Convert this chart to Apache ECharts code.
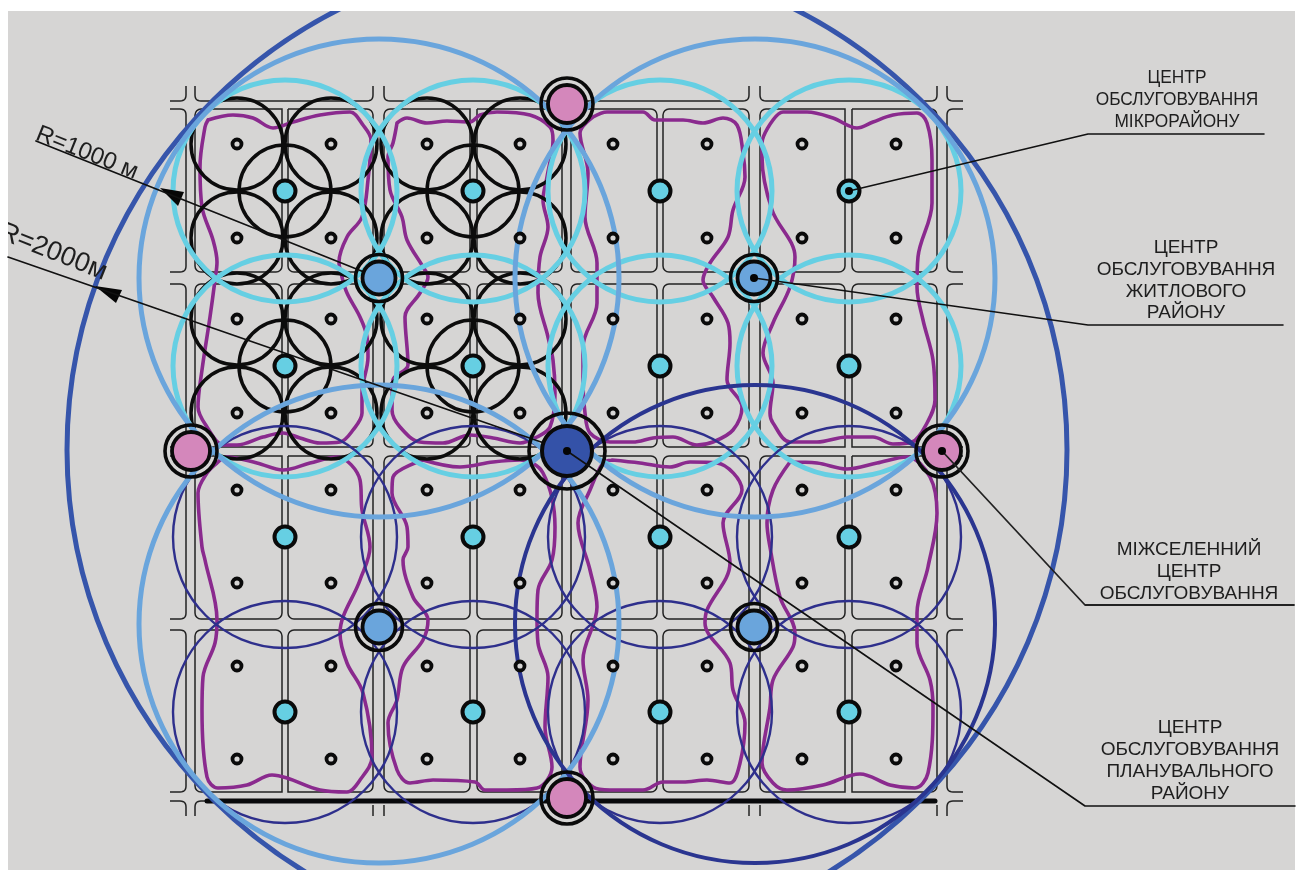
<!DOCTYPE html>
<html><head><meta charset="utf-8">
<style>html,body{margin:0;padding:0;background:#fff}#c{width:1300px;height:870px}</style>
<script src="https://cdn.jsdelivr.net/npm/echarts@6/dist/echarts.min.js"></script>
</head><body><div id="c"></div>
<script>
// ---- data (all in plan units of the picture) ----
const dotX=[237,331,427,520,613,707,802,896];
const dotY=[144,238,319,413,490,583,666,759];
const microX=[285,473,660,849];
const microY=[191,366,537,712];
const districtCentres=[[379,278],[754,278],[379,627],[754,627]];
const interCentres=[[567,104],[191,451],[942,451],[567,798]];
const planningCentre=[[567,451]];
const leaderDots=[[849,191],[754,278],[942,451],[567,451]];
const walkCentres=[[237,144],[331,144],[285,191],[237,238],[331,238],[237,319],[331,319],[285,366],[237,413],[331,413],
 [427,144],[520,144],[473,191],[427,238],[520,238],[427,319],[520,319],[473,366],[427,413],[520,413]];
const walkRadius=46;
const microRx=112, microRy=111;
const cyanCircles=[[285,191],[473,191],[660,191],[849,191],[285,366],[473,366],[660,366],[849,366]];
const navyCircles=[[285,537],[473,537],[660,537],[849,537],[285,712],[473,712],[660,712],[849,712]];
const districtRx=240, districtRy=239;
const lightBlueCircles=[[379,278],[755,278],[379,624]];
const navyBigCircle=[[755,624]];
const cityCircle=[[567,450,500,495]];
const blockCols=[[195,373],[384,562],[571,749],[760,937]];
const splitCols=[[282,288],[470,477],[657,663],[845,852]];
const blockRows=[[109,272],[284,447],[456,619],[630,792]];
// 1 = the inner footpath corners are rounded: [top,bottom] by row, column
const splitRound=[[[0,1],[0,1],[1,1],[0,1]],[[1,0],[1,1],[1,1],[1,0]],[[0,1],[0,1],[1,1],[0,1]],[[1,0],[1,1],[1,1],[1,0]]];
const outerStubs=[
 [[170,101],[186,101],[186,86]],[[947,86],[947,101],[963,101]],
 [[195,86],[195,101],[373,101],[373,86]],[[384,86],[384,101],[562,101],[562,86]],[[571,86],[571,101],[749,101],[749,86]],[[760,86],[760,101],[937,101],[937,86]],
 [[170,109],[186,109],[186,272],[170,272]],[[170,284],[186,284],[186,447],[170,447]],[[170,456],[186,456],[186,619],[170,619]],[[170,630],[186,630],[186,792],[170,792]],
 [[963,109],[947,109],[947,272],[963,272]],[[963,284],[947,284],[947,447],[963,447]],[[963,456],[947,456],[947,619],[963,619]],[[963,630],[947,630],[947,792],[963,792]],
 [[170,801],[186,801],[186,816]],[[207,801],[195,801],[195,816]],[[963,801],[947,801],[947,816]],
 [[373,805],[373,816]],[[384,805],[384,816]],[[749,805],[749,816]],[[760,805],[760,816]],[[937,805],[937,816]]
];
const thickRoad=[[207,801],[935,801]];
const outlineA=[[208,120],[233,115],[253,118],[273,128],[293,122],[320,115],[350,112],[363,125],[371,140],[368,180],[362,217],[347,237],[339,262],[342,277],[347,293],[360,317],[367,337],[368,357],[362,393],[362,413],[353,430],[340,442],[320,443],[300,438],[283,433],[263,437],[237,445],[223,445],[207,427],[198,407],[202,370],[210,317],[215,280],[217,262],[213,240],[202,207],[200,167],[205,127],[208,120]];
const outlineB=[[397,123],[407,118],[427,123],[447,121],[470,122],[480,115],[497,112],[530,115],[550,127],[553,140],[547,177],[543,200],[548,227],[540,257],[538,293],[548,337],[553,360],[555,393],[550,427],[537,437],[520,443],[493,438],[470,435],[443,443],[420,442],[400,427],[392,410],[393,380],[408,365],[405,317],[420,293],[428,277],[423,267],[407,240],[402,217],[390,190],[388,157],[393,143],[397,123]];
const outlineC=[[593,117],[607,112],[643,112],[655,120],[683,120],[703,123],[723,118],[737,125],[743,153],[745,177],[733,210],[728,237],[710,263],[703,280],[713,297],[728,323],[730,343],[727,380],[742,407],[733,430],[713,442],[697,445],[673,437],[653,438],[633,442],[610,442],[590,433],[585,413],[583,383],[583,347],[597,303],[597,263],[585,217],[588,173],[580,133],[593,117]];
const outlineD=[[773,120],[783,112],[807,112],[833,118],[857,128],[873,122],[893,115],[917,113],[927,123],[932,160],[932,203],[918,257],[917,287],[923,320],[933,360],[935,400],[927,423],[912,442],[893,444],[873,437],[847,437],[817,442],[790,442],[773,423],[770,413],[773,383],[763,353],[773,323],[790,287],[795,257],[772,210],[762,157],[762,143],[773,120]];
const outlineE=[[217,463],[227,457],[257,463],[283,470],[310,463],[337,457],[360,480],[362,510],[370,547],[360,580],[340,633],[347,663],[363,693],[372,757],[360,780],[347,792],[320,790],[287,778],[272,775],[247,785],[218,788],[207,777],[202,710],[203,677],[215,643],[217,620],[205,560],[202,547],[198,493],[207,473],[217,463]];
const outlineF=[[423,460],[460,467],[493,462],[520,460],[543,473],[555,527],[552,560],[538,590],[537,617],[538,643],[548,677],[545,727],[552,767],[537,788],[507,790],[485,790],[475,782],[433,780],[410,783],[397,770],[388,723],[397,700],[403,667],[423,640],[428,620],[413,597],[403,560],[408,547],[407,527],[392,493],[393,477],[423,460]];
const outlineG=[[612,460],[640,463],[670,467],[690,462],[717,463],[742,490],[723,523],[730,563],[707,610],[705,623],[730,663],[733,690],[745,723],[740,763],[730,783],[707,780],[683,782],[663,782],[643,790],[610,790],[593,787],[580,767],[588,700],[583,660],[597,607],[590,570],[578,523],[590,490],[603,463],[612,460]];
const outlineH=[[790,462],[817,463],[847,469],[877,463],[907,457],[930,477],[937,513],[928,567],[917,613],[917,643],[930,680],[933,707],[928,773],[915,788],[890,785],[860,774],[823,785],[787,790],[773,783],[762,763],[770,707],[773,680],[793,647],[795,633],[780,597],[770,547],[767,523],[773,490],[790,462]];
const outlines=[outlineA,outlineB,outlineC,outlineD,outlineE,outlineF,outlineG,outlineH];
const leaderMicro=[[849,191],[1088,134],[1264,134]];
const leaderDistrict=[[754,278],[1088,325],[1283,325]];
const leaderInter=[[942,451],[1085,605],[1294,605]];
const leaderPlanning=[[567,451],[1085,806],[1295,806]];
const radius1000=[[36,141],[379,278]];
const radius2000=[[8,257],[567,451]];
const arrow1000=[[160,188],[184,192],[178,206]];
const arrow2000=[[95,286],[122,290],[116,303]];
const radiusTexts=['R=1000 м','R=2000м'];
const labelMicro=['ЦЕНТР','ОБСЛУГОВУВАННЯ','МІКРОРАЙОНУ'];
const labelDistrict=['ЦЕНТР','ОБСЛУГОВУВАННЯ','ЖИТЛОВОГО','РАЙОНУ'];
const labelInter=['МІЖСЕЛЕННИЙ','ЦЕНТР','ОБСЛУГОВУВАННЯ'];
const labelPlanning=['ЦЕНТР','ОБСЛУГОВУВАННЯ','ПЛАНУВАЛЬНОГО','РАЙОНУ'];

// ---- helpers ----
const combos=(xs,ys)=>{const o=[];ys.forEach(y=>xs.forEach(x=>o.push([x,y])));return o;};
const blocksData=[];
blockRows.forEach((r,i)=>blockCols.forEach((c,j)=>{
  const f=splitRound[i][j],s=splitCols[j];
  blocksData.push([c[0],s[0],r[0],r[1],6,f[0]*6,f[1]*6,6]);
  blocksData.push([s[1],c[1],r[0],r[1],f[0]*6,6,6,f[1]*6]);
}));
const lineW={color:'#222',width:1.5};
function ellipseSeries(data,rx,ry,color,width,z){
  return {type:'custom',coordinateSystem:'cartesian2d',clip:true,z,silent:true,
    data:data.map(d=>[d[0],d[1],d[2]||rx,d[3]||ry]),
    encode:{x:0,y:1},
    renderItem:(p,api)=>{
      const c=api.coord([api.value(0),api.value(1)]);
      const s=api.size([api.value(2),api.value(3)]);
      return {type:'ellipse',shape:{cx:c[0],cy:c[1],rx:s[0],ry:s[1]},
        style:{fill:'none',stroke:color,lineWidth:width}};
    }};
}
function roundedPts(pts,api,r){
  const P=pts.map(q=>api.coord(q)),o=[P[0]];
  for(let i=1;i<P.length-1;i++){
    const a=P[i-1],b=P[i],c=P[i+1];
    const la=Math.hypot(a[0]-b[0],a[1]-b[1]),lc=Math.hypot(c[0]-b[0],c[1]-b[1]);
    const u=[(a[0]-b[0])/la,(a[1]-b[1])/la],v=[(c[0]-b[0])/lc,(c[1]-b[1])/lc];
    for(let k=0;k<=6;k++){
      const t=k/6,m=1-t;
      const s=[b[0]+u[0]*r,b[1]+u[1]*r],e=[b[0]+v[0]*r,b[1]+v[1]*r];
      o.push([m*m*s[0]+2*m*t*b[0]+t*t*e[0],m*m*s[1]+2*m*t*b[1]+t*t*e[1]]);
    }
  }
  o.push(P[P.length-1]);return o;
}
function scatter(data,size,fill,border,bw,z){
  return {type:'scatter',data,symbol:'circle',symbolSize:size,z,silent:true,clip:true,
    itemStyle:{color:fill,borderColor:border,borderWidth:bw,opacity:1}};
}
function polyLine(data,color,width,z,smooth){
  return {type:'line',data,symbol:'none',showSymbol:false,smooth:smooth||false,z,silent:true,clip:true,
    animation:false,lineStyle:{color,width,cap:'round',join:'round'}};
}
function textSeries(items,z){
  return {type:'custom',coordinateSystem:'cartesian2d',clip:true,z,silent:true,
    data:items.map((t,i)=>[t.x,t.y,i]),encode:{x:0,y:1},
    renderItem:(p,api)=>{
      const t=items[api.value(2)],c=api.coord([api.value(0),api.value(1)]);
      return {type:'text',x:c[0],y:c[1],rotation:t.rot||0,scaleX:t.sx||1,
        style:{text:t.s,font:t.font,fill:t.fill||'#1e1e1e',textAlign:'center',textVerticalAlign:'middle'}};
    }};
}
const F=n=>n+'px "Liberation Sans"';
const texts=[];
function addLabel(lines,x,ys,size,sx){lines.forEach((s,i)=>texts.push({s,x,y:ys[i],font:F(size),sx:sx}));}
addLabel(labelMicro,1177,[78,100,122],19,0.91);
addLabel(labelDistrict,1186,[248,270,292,313],19,1);
addLabel(labelInter,1189,[550,572,594],19,1);
addLabel(labelPlanning,1190,[728,750,772,794],19,1);
texts.push({s:radiusTexts[0],x:87,y:153,font:F(24),rot:-0.38});
texts.push({s:radiusTexts[1],x:53,y:252,font:F(27),rot:-0.38});

const series=[
 // street blocks
 {type:'custom',coordinateSystem:'cartesian2d',clip:true,z:2,silent:true,data:blocksData,encode:{x:[0,1],y:[2,3]},
  renderItem:(p,api)=>{
    const a=api.coord([api.value(0),api.value(2)]),b=api.coord([api.value(1),api.value(3)]);
    return {type:'rect',shape:{x:a[0],y:a[1],width:b[0]-a[0],height:b[1]-a[1],
      r:[api.value(4),api.value(5),api.value(6),api.value(7)]},
      style:{fill:'none',stroke:lineW.color,lineWidth:lineW.width}};
  }},
 {type:'custom',coordinateSystem:'cartesian2d',clip:true,z:2,silent:true,
  data:outerStubs.map((s,i)=>[s[0][0],s[0][1],i]),encode:{x:0,y:1},
  renderItem:(p,api)=>({type:'polyline',shape:{points:roundedPts(outerStubs[api.value(2)],api,6)},
    style:{fill:'none',stroke:lineW.color,lineWidth:lineW.width}})},
 polyLine(thickRoad,'#08090b',5,3),
 ...outlines.map(o=>polyLine(o,'#8a2a8e',3.6,4,0.35)),
 ellipseSeries(walkCentres,walkRadius,walkRadius,'#0c0c0c',3.5,5),
 ellipseSeries(cyanCircles,microRx,microRy,'#66cfe3',5,6),
 ellipseSeries(navyCircles,microRx,microRy,'#2e2f8c',2.4,6),
 ellipseSeries(cityCircle,0,0,'#3655ab',5,7),
 ellipseSeries(lightBlueCircles,districtRx,districtRy,'#6aa5dc',5,8),
 ellipseSeries(navyBigCircle,districtRx,districtRy,'#2a3590',4,8),
 polyLine(radius1000,'#111',1.7,9),
 polyLine(radius2000,'#111',1.7,9),
 ...[arrow1000,arrow2000].map(a=>({type:'custom',coordinateSystem:'cartesian2d',clip:true,z:9,silent:true,
   data:a,encode:{x:0,y:1},
   renderItem:(p,api)=>p.dataIndex===0?{type:'polygon',shape:{points:a.map(q=>api.coord(q))},style:{fill:'#060606'}}:null})),
 // dots and centres
 scatter(combos(dotX,dotY),9,'#d6d5d4','#0a0a0a',3.8,10),
 scatter(combos(microX,microY),21,'#66cfe3','#0a0a0a',4,10),
 scatter(districtCentres,47,'transparent','#0a0a0a',3.6,10),
 scatter(districtCentres,33,'#6aa5dc','#0a0a0a',3.8,11),
 scatter(interCentres,52,'transparent','#0a0a0a',3.6,10),
 scatter(interCentres,38,'#d487bb','#0a0a0a',3.8,11),
 scatter(planningCentre,76,'transparent','#0a0a0a',3.6,10),
 scatter(planningCentre,50,'#3452a8','#0a0a0a',4,11),
 polyLine(leaderMicro,'#111',1.6,12),
 polyLine(leaderDistrict,'#111',1.6,12),
 polyLine(leaderInter,'#222',1.8,12),
 polyLine(leaderPlanning,'#111',1.6,12),
 scatter(leaderDots,8,'#050505','#050505',0,13),
 textSeries(texts,14)
];
const chart=echarts.init(document.getElementById('c'),null,{renderer:'canvas'});
chart.setOption({
  animation:false,backgroundColor:'#ffffff',tooltip:{show:false},legend:{show:false},
  grid:{left:8,top:11,width:1287,height:859,show:true,backgroundColor:'#d6d5d4',borderWidth:0},
  xAxis:{type:'value',min:8,max:1295,show:false,scale:true},
  yAxis:{type:'value',min:11,max:870,inverse:true,show:false,scale:true},
  series
});
</script></body></html>
